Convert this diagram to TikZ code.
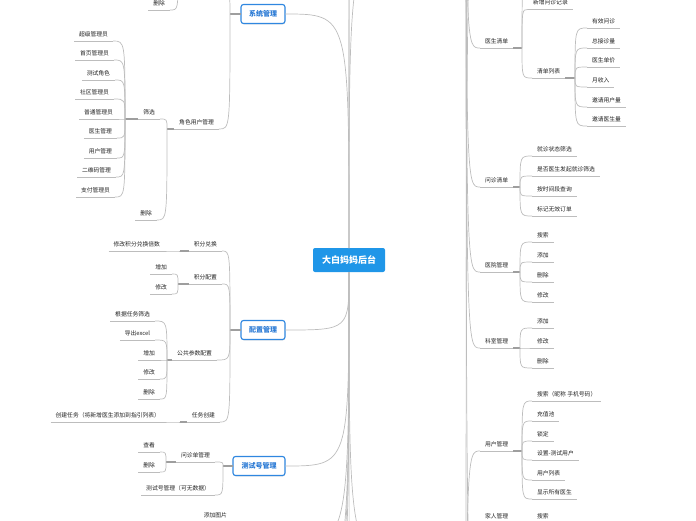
\documentclass[tikz,border=0pt]{standalone}
\usepackage{fontspec}
\setmainfont{Noto Sans CJK SC}
\usetikzlibrary{shadows}
\definecolor{txt}{HTML}{222222}
\definecolor{lc}{HTML}{BDBDBD}
\definecolor{sc}{HTML}{9E9E9E}
\definecolor{bb}{HTML}{2F87E0}
\definecolor{bt}{HTML}{2A7AD5}
\definecolor{cb}{HTML}{1F96E8}
\newcommand{\elbowto}[2]{\draw[conn] (#1) .. controls (#1 |- #2) .. (#2);}
\begin{document}
\begin{tikzpicture}[x=1pt,y=-1pt,
  conn/.style={draw=lc, line width=0.7pt},
  stub/.style={draw=sc, line width=1.6pt},
  lab/.style={font=\fontsize{5.8}{6.5}\selectfont, text=txt, inner xsep=5pt, inner ysep=3.2pt,
    text height=4.6pt, text depth=1.5pt, outer sep=0pt,
    append after command={(\tikzlastnode.south west) edge[conn] (\tikzlastnode.south east)}},
  labL/.style={lab, anchor=south east},
  labR/.style={lab, anchor=south west},
  topic/.style={draw=bb, line width=1.1pt, rounded corners=2.5pt, fill=white, text=bt,
    font=\fontsize{7}{8}\selectfont\bfseries, minimum height=19pt, inner xsep=6pt, outer sep=0pt,
    drop shadow={shadow xshift=0.4pt, shadow yshift=-1pt, opacity=0.18}},
  root/.style={fill=cb, rounded corners=2pt, text=white, font=\fontsize{9}{10}\selectfont\bfseries,
    minimum width=72pt, minimum height=24pt, outer sep=0pt}
]
\useasboundingbox (0,0) rectangle (696,520);

% ---------- root ----------
\node[root] (root) at (349,260) {大白妈妈后台};

% offscreen targets of the root
\foreach \X/\Y [count=\k] in {413/-60, 413/-500, 413/-900, 285/545, 285/590, 285/610, 285/650, 413/1000, 413/560} {
  \coordinate (rt\k) at (\X,\Y);
}
\foreach \k in {1,2,3} { \elbowto{root.north}{rt\k} }
\foreach \k in {4,5,6,7,8,9} { \elbowto{root.south}{rt\k} }

% ---------- 系统管理 ----------
\node[topic, minimum width=44pt] (sys) at (263,14) {系统管理};
\draw[conn] (root.north) .. controls (root.north |- sys.east) .. (sys.east);
\coordinate (sysJ) at (230,14);
\draw[stub] (sys.west) -- (sysJ);
\coordinate (sysUp) at (218,-8);
\elbowto{sysJ}{sysUp}

\coordinate (offA) at (178,-25);
\node[labL] (del0) at (170,10) {删除};
\elbowto{offA}{del0.south east}

\node[labL] (role) at (219,129) {角色用户管理};
\coordinate (roleJ) at (167,129);
\draw[stub] (role.south west) -- (roleJ);
\elbowto{sysJ}{role.south east}

\node[labL] (filt) at (160,119) {筛选};
\coordinate (filtJ) at (125,119);
\draw[stub] (filt.south west) -- (filtJ);
\elbowto{roleJ}{filt.south east}

\foreach \t/\y/\xx [count=\i] in {超级管理员/41/113, 首页管理员/60/114, 测试角色/80/115,
  社区管理员/99/114, 普通管理员/119/118, 医生管理/138/117, 用户管理/158/117,
  二维码管理/177/116, 支付管理员/197/115} {
  \node[labL] (f\i) at (\xx,\y) {\t};
  \elbowto{filtJ}{f\i.south east}
}

\node[labL] (del1) at (157,220) {删除};
\elbowto{roleJ}{del1.south east}

% ---------- 配置管理 ----------
\node[topic, minimum width=44pt] (cfg) at (263,330) {配置管理};
\draw[conn] (root.south) .. controls (root.south |- cfg.east) .. (cfg.east);
\coordinate (cfgJ) at (230,330);
\draw[stub] (cfg.west) -- (cfgJ);

\node[labL] (jfdh) at (222,251) {积分兑换};
\elbowto{cfgJ}{jfdh.south east}
\coordinate (jfdhJ) at (180,251);
\draw[stub] (jfdh.south west) -- (jfdhJ);
\node[labL] (jfdh1) at (165,251) {修改积分兑换倍数};
\elbowto{jfdhJ}{jfdh1.south east}

\node[labL] (jfpz) at (222,284) {积分配置};
\elbowto{cfgJ}{jfpz.south east}
\coordinate (jfpzJ) at (178,284);
\draw[stub] (jfpz.south west) -- (jfpzJ);
\node[labL] (zj1) at (172,274) {增加};
\node[labL] (xg1) at (172,294) {修改};
\elbowto{jfpzJ}{zj1.south east}
\elbowto{jfpzJ}{xg1.south east}

\node[labL] (ggcs) at (217,360) {公共参数配置};
\elbowto{cfgJ}{ggcs.south east}
\coordinate (ggcsJ) at (167,360);
\draw[stub] (ggcs.south west) -- (ggcsJ);
\foreach \t/\y/\xx [count=\i] in {根据任务筛选/321/155, 导出excel/340/155, 增加/360/160, 修改/379/160, 删除/399/160} {
  \node[labL] (g\i) at (\xx,\y) {\t};
  \elbowto{ggcsJ}{g\i.south east}
}

\node[labL] (rwcj) at (220,422) {任务创建};
\elbowto{cfgJ}{rwcj.south east}
\coordinate (rwcjJ) at (180,422);
\draw[stub] (rwcj.south west) -- (rwcjJ);
\node[labL] (cjrw) at (165,422) {创建任务（将新增医生添加到指引列表）};
\elbowto{rwcjJ}{cjrw.south east}

% ---------- 测试号管理 ----------
\node[topic, minimum width=52pt] (tst) at (259,466) {测试号管理};
\draw[conn] (root.south) .. controls (root.south |- tst.east) .. (tst.east);
\coordinate (tstJ) at (223,466);
\draw[stub] (tst.west) -- (tstJ);

\node[labL] (wzd) at (215,462) {问诊单管理};
\elbowto{tstJ}{wzd.south east}
\coordinate (wzdJ) at (166,462);
\draw[stub] (wzd.south west) -- (wzdJ);
\node[labL] (ck) at (160,452) {查看};
\node[labL] (sc1) at (160,472) {删除};
\elbowto{wzdJ}{ck.south east}
\elbowto{wzdJ}{sc1.south east}

\node[labL] (tsh) at (215,495) {测试号管理（可无数据）};
\elbowto{tstJ}{tsh.south east}

\coordinate (offB) at (242,560);
\node[labL] (tjtp) at (232,522) {添加图片};
\elbowto{offB}{tjtp.south east}

% ---------- right side ----------
\coordinate (P) at (466,-300);
\coordinate (P2) at (466,900);

\node[labR] (yscd) at (480,48) {医生清单};
\elbowto{P}{yscd.south west}
\coordinate (yscdJ) at (522,48);
\draw[stub] (yscd.south east) -- (yscdJ);
\node[labR] (xzwz) at (528,9.5) {新增问诊记录};
\elbowto{yscdJ}{xzwz.south west}
\coordinate (offC) at (528,-16);
\elbowto{yscdJ}{offC}
\node[labR] (qdlb) at (532,78) {清单列表};
\elbowto{yscdJ}{qdlb.south west}
\coordinate (qdlbJ) at (575,78);
\draw[stub] (qdlb.south east) -- (qdlbJ);
\foreach \t/\y [count=\i] in {有效问诊/28, 总接诊量/48, 医生单价/67, 月收入/87, 邀请用户量/107, 邀请医生量/126} {
  \node[labR] (q\i) at (587,\y) {\t};
  \elbowto{qdlbJ}{q\i.south west}
}

\node[labR] (wzqd) at (480,187) {问诊清单};
\elbowto{P}{wzqd.south west}
\coordinate (wzqdJ) at (520,187);
\draw[stub] (wzqd.south east) -- (wzqdJ);
\foreach \t/\y [count=\i] in {就诊状态筛选/156, 是否医生发起就诊筛选/176, 按时间段查询/196, 标记无效订单/216} {
  \node[labR] (w\i) at (532,\y) {\t};
  \elbowto{wzqdJ}{w\i.south west}
}

\node[labR] (yygl) at (480,272) {医院管理};
\elbowto{P}{yygl.south west}
\coordinate (yyglJ) at (520,272);
\draw[stub] (yygl.south east) -- (yyglJ);
\foreach \t/\y [count=\i] in {搜索/242, 添加/262, 删除/282, 修改/302} {
  \node[labR] (y\i) at (532,\y) {\t};
  \elbowto{yyglJ}{y\i.south west}
}

\node[labR] (ksgl) at (480,348) {科室管理};
\elbowto{P}{ksgl.south west}
\coordinate (ksglJ) at (520,348);
\draw[stub] (ksgl.south east) -- (ksglJ);
\foreach \t/\y [count=\i] in {添加/328, 修改/348, 删除/368} {
  \node[labR] (k\i) at (532,\y) {\t};
  \elbowto{ksglJ}{k\i.south west}
}

\coordinate (offD) at (480,620);
\elbowto{P}{offD}
\coordinate (offE) at (480,-100);
\elbowto{P2}{offE}

\node[labR] (yhgl) at (480,451) {用户管理};
\elbowto{P2}{yhgl.south west}
\coordinate (yhglJ) at (522,451);
\draw[stub] (yhgl.south east) -- (yhglJ);
\foreach \t/\y [count=\i] in {搜索（昵称 手机号码）/401, 充值池/421, 锁定/441, 设置-测试用户/460, 用户列表/480, 显示所有医生/499} {
  \node[labR] (u\i) at (532,\y) {\t};
  \elbowto{yhglJ}{u\i.south west}
}

\node[labR] (jrgl) at (480,523) {家人管理};
\elbowto{P2}{jrgl.south west}
\coordinate (jrglJ) at (522,523);
\draw[stub] (jrgl.south east) -- (jrglJ);
\node[labR] (js) at (532,523) {搜索};
\elbowto{jrglJ}{js.south west}
\end{tikzpicture}
\end{document}
